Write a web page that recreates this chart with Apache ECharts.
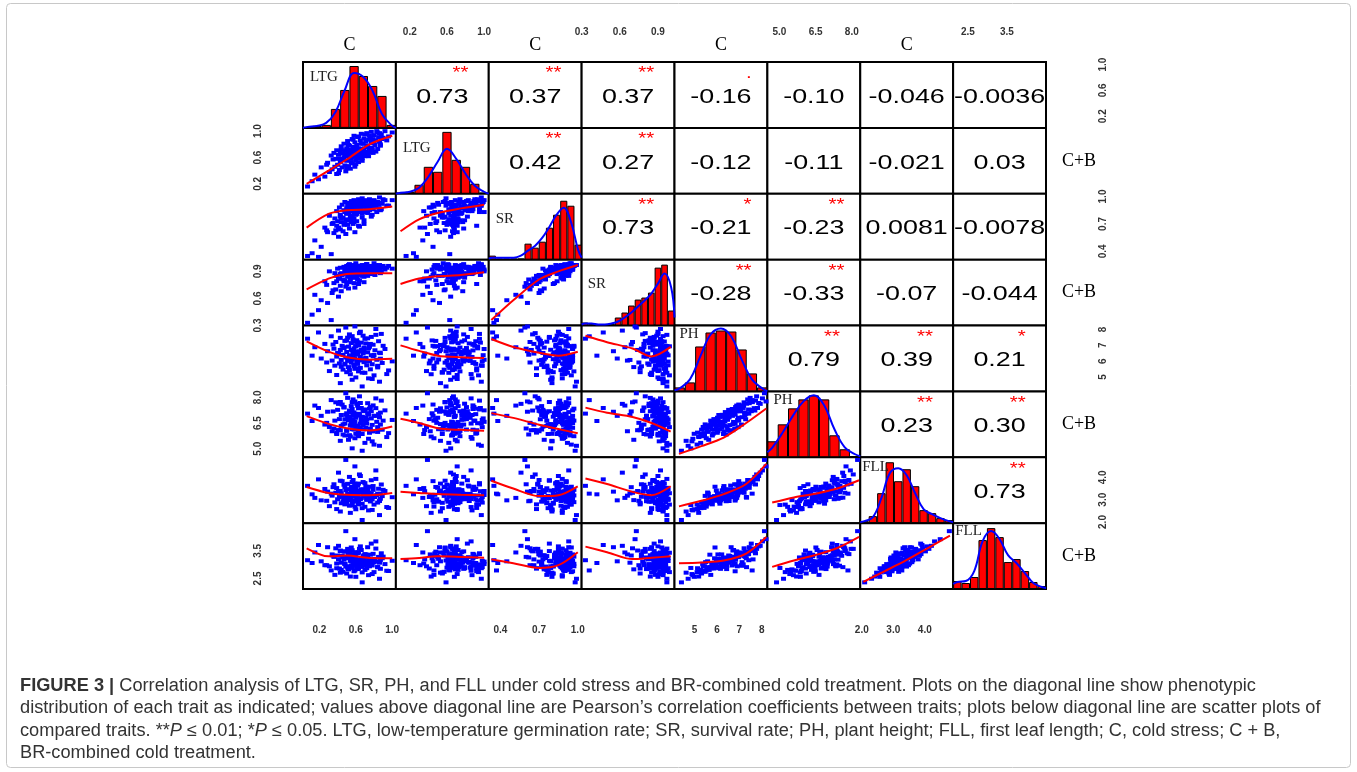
<!DOCTYPE html>
<html>
<head>
<meta charset="utf-8">
<title>Figure 3</title>
<script src="https://cdn.jsdelivr.net/npm/echarts@6/dist/echarts.min.js"></script>
<style>
  html, body { margin: 0; padding: 0; background: #fff; }
  #main { width: 1357px; height: 772px; }
</style>
</head>
<body>
<div id="main"></div>
<script type="text/javascript">
// traits in matrix order: LTG (C), LTG (C+B), SR (C), SR (C+B), PH (C), PH (C+B), FLL (C), FLL (C+B)
var traitNames = ['LTG', 'LTG', 'SR', 'SR', 'PH', 'PH', 'FLL', 'FLL'];

var ltgC = [0.07,0.15,0.19,0.22,0.26,0.29,0.31,0.33,0.34,0.36,
  0.37,0.38,0.39,0.39,0.40,0.41,0.42,0.43,0.43,0.44,
  0.45,0.46,0.46,0.47,0.48,0.48,0.49,0.49,0.50,0.50,
  0.51,0.51,0.52,0.52,0.53,0.53,0.54,0.54,0.55,0.55,
  0.56,0.56,0.56,0.57,0.57,0.58,0.58,0.58,0.59,0.59,
  0.59,0.59,0.60,0.60,0.61,0.61,0.62,0.62,0.63,0.63,
  0.64,0.65,0.65,0.66,0.66,0.67,0.67,0.68,0.68,0.69,
  0.69,0.70,0.71,0.71,0.72,0.73,0.73,0.74,0.75,0.75,
  0.76,0.77,0.77,0.78,0.79,0.79,0.80,0.81,0.82,0.83,
  0.84,0.85,0.86,0.86,0.87,0.88,0.89,0.92,0.96,1.00,
  0.12,0.28,0.35,0.41,0.44,0.47,0.50,0.52,0.53,0.55,
  0.56,0.57,0.58,0.60,0.61,0.62,0.63,0.64,0.65,0.66,
  0.67,0.68,0.70,0.71,0.72,0.74,0.76,0.78,0.80,0.82,
  0.84,0.87,0.90,0.94,0.54,0.59,0.62,0.69,0.48,0.43];
var ltgCB = [0.16,0.34,0.27,0.45,0.31,0.52,0.38,0.63,0.42,0.67,
  0.46,0.58,0.35,0.71,0.49,0.64,0.41,0.68,0.53,0.77,
  0.45,0.66,0.57,0.81,0.48,0.65,0.62,0.39,0.74,0.55,
  0.66,0.85,0.47,0.69,0.61,0.78,0.43,0.67,0.72,0.58,
  0.88,0.64,0.51,0.69,0.76,0.62,0.93,0.67,0.46,0.71,
  0.65,0.83,0.68,0.56,0.79,0.66,0.91,0.69,0.53,0.74,
  0.67,0.86,0.63,0.72,0.96,0.68,0.59,0.81,0.66,0.89,
  0.74,0.62,0.84,0.69,0.97,0.76,0.64,0.87,0.72,0.93,
  0.68,0.82,0.99,0.75,0.88,0.67,0.94,0.79,0.86,1.00,
  0.73,0.91,0.84,0.97,0.78,0.95,0.88,1.00,0.92,0.98,
  0.24,0.49,0.57,0.36,0.72,0.60,0.44,0.79,0.66,0.53,
  0.70,0.87,0.61,0.50,0.75,0.65,0.92,0.59,0.70,0.81,
  0.55,0.73,0.95,0.66,0.78,0.62,0.89,0.71,0.83,0.69,
  0.98,0.80,0.90,0.86,0.68,0.76,0.60,0.64,0.71,0.58];
var srC = [0.35,0.52,0.34,0.45,0.66,0.61,0.79,0.37,0.70,0.60,
  0.76,0.63,0.84,0.68,0.73,0.56,0.88,0.64,0.80,0.72,
  0.91,0.62,0.77,0.85,0.71,0.94,0.75,0.59,0.87,0.81,
  0.69,0.90,0.83,0.74,0.93,0.65,0.88,0.78,0.72,0.95,
  0.86,0.79,0.91,0.70,0.87,0.82,0.96,0.76,0.89,0.61,
  0.92,0.84,0.80,0.94,0.87,0.73,0.91,0.89,0.83,0.97,
  0.67,0.88,0.93,0.85,0.90,0.81,0.98,0.89,0.84,0.95,
  0.74,0.92,0.86,0.96,0.90,0.82,0.93,0.88,0.85,0.97,
  0.91,0.78,0.94,0.89,0.92,0.86,0.95,0.90,0.93,0.83,
  0.94,0.91,0.87,0.99,0.93,0.86,0.92,0.96,0.90,0.96,
  0.38,0.63,0.71,0.66,0.76,0.69,0.82,0.74,0.87,0.79,
  0.91,0.84,0.72,0.93,0.81,0.88,0.68,0.90,0.85,0.95,
  0.77,0.92,0.83,0.89,0.94,0.86,0.91,0.80,0.96,0.88,
  0.93,0.85,0.97,0.90,0.75,0.87,0.92,0.70,0.83,0.78];
var srCB = [0.33,0.64,0.47,0.58,0.79,0.55,0.90,0.36,0.66,0.77,
  0.88,0.70,0.79,0.85,0.93,0.62,0.82,0.74,0.94,0.68,
  0.86,0.81,0.87,0.95,0.80,0.90,0.91,0.73,0.96,0.76,
  0.84,0.89,0.97,0.71,0.98,0.78,0.84,0.92,0.83,0.93,
  0.88,0.94,0.85,0.86,0.97,0.77,0.92,0.89,0.95,0.72,
  0.87,0.93,0.90,0.99,0.83,0.86,0.95,0.81,0.92,0.96,
  0.80,0.93,0.88,0.96,0.86,0.91,0.97,0.94,0.89,0.92,
  0.84,0.97,0.91,0.94,0.98,0.90,0.85,0.94,0.92,0.96,
  0.88,0.87,0.95,0.93,0.89,0.94,0.99,0.86,0.92,0.90,
  0.96,0.93,0.91,0.97,0.95,0.90,0.94,0.92,0.96,0.93,
  0.42,0.75,0.69,0.82,0.88,0.79,0.92,0.86,0.91,0.95,
  0.94,0.87,0.83,0.97,0.89,0.93,0.76,0.96,0.90,0.94,
  0.85,0.95,0.92,0.87,0.98,0.93,0.89,0.91,0.95,0.97,
  0.92,0.88,0.96,0.94,0.81,0.95,0.90,0.78,0.93,0.87];
var phC = [7.42,6.88,7.81,6.17,7.09,6.63,5.38,7.57,6.04,6.79,
  5.72,7.21,6.29,5.13,6.52,7.93,5.86,6.71,4.62,6.08,
  6.97,6.41,5.47,6.83,7.28,5.79,6.23,8.12,6.58,5.31,
  7.48,6.02,6.92,5.63,6.37,7.69,5.18,6.33,7.14,5.91,
  6.68,4.83,6.11,7.37,6.47,5.68,6.81,7.23,5.52,8.19,
  6.19,6.61,4.98,6.94,7.32,5.97,5.83,6.43,7.02,5.36,
  7.77,6.27,5.58,6.74,7.17,6.13,4.41,6.49,7.61,5.94,
  6.86,5.27,7.12,6.21,5.74,6.56,7.44,4.92,6.01,6.91,
  5.49,7.53,6.38,5.81,7.04,6.31,5.11,6.69,8.03,6.09,
  5.61,7.26,6.54,4.71,6.16,7.72,5.89,6.77,5.42,5.99,
  6.35,5.92,7.05,6.48,5.65,6.88,7.31,6.12,5.44,6.72,
  7.58,6.26,5.77,6.95,6.44,7.19,5.55,6.63,7.86,6.05,
  5.28,6.57,7.41,6.18,5.98,6.81,7.09,4.88,6.39,7.66,
  5.71,6.51,6.97,5.19,6.29,7.24,6.02,6.66,5.84,7.47];
var phCB = [7.05,7.52,7.38,6.92,6.41,7.16,6.27,7.84,6.02,6.18,
  6.64,7.71,5.86,5.94,7.27,7.62,6.73,6.08,5.46,6.97,
  7.58,5.83,6.42,7.43,6.72,5.77,6.98,8.24,6.04,6.11,
  7.97,6.81,6.67,5.52,7.14,7.23,5.71,6.36,7.49,6.51,
  7.32,5.02,6.14,7.88,6.69,6.38,6.49,7.12,5.61,7.76,
  6.58,7.04,5.87,6.26,7.63,6.29,5.88,6.93,7.36,5.73,
  8.06,6.47,6.24,6.56,7.38,6.87,4.88,6.12,7.27,6.63,
  7.19,5.34,6.84,6.22,6.47,7.08,7.66,5.58,5.93,7.34,
  6.17,7.19,6.77,6.39,7.53,6.01,5.24,6.92,7.94,6.57,
  5.98,7.02,6.83,5.17,6.41,7.81,6.11,7.24,5.91,6.68,
  6.62,6.51,7.18,6.09,6.33,7.41,7.07,6.88,5.79,6.44,
  7.72,6.97,6.12,6.81,6.29,7.51,6.08,7.04,7.67,6.73,
  5.86,6.38,7.29,6.55,6.71,6.99,7.44,5.43,6.92,7.37,
  6.26,7.11,6.64,5.68,6.86,6.92,6.36,7.21,6.47,7.73];
var fllC = [3.62,3.08,3.91,2.97,3.48,3.36,2.71,3.27,3.18,3.69,
  2.88,3.31,3.52,2.58,3.02,4.21,3.12,3.39,2.47,3.28,
  3.83,2.93,3.17,3.04,3.57,2.79,3.42,4.78,3.11,2.86,
  3.71,3.26,3.22,2.98,3.47,4.02,2.41,3.07,3.33,3.58,
  3.19,2.76,2.91,3.88,3.37,3.13,2.96,3.51,2.69,4.49,
  3.21,3.63,2.57,3.29,3.09,3.41,3.01,3.16,3.72,2.89,
  4.13,3.03,3.32,3.46,3.38,2.82,2.09,3.23,3.79,3.14,
  3.34,2.68,3.59,3.24,2.99,3.43,3.53,2.52,3.06,3.19,
  2.92,3.87,3.28,3.01,3.44,3.61,2.78,3.12,4.31,3.21,
  3.27,3.49,2.94,2.31,3.04,3.68,3.16,3.39,2.63,3.11,
  3.24,2.95,3.56,3.38,2.84,3.67,3.12,3.02,2.73,3.41,
  3.79,3.18,2.91,3.53,3.29,3.63,2.79,3.35,4.06,3.07,
  2.62,3.46,3.74,3.21,3.04,3.31,3.58,2.54,3.15,3.93,
  2.87,3.26,3.44,2.67,3.09,3.72,3.01,3.36,2.99,3.85];
var fllCB = [3.16,3.44,3.71,3.12,2.98,3.63,2.94,2.79,3.37,3.28,
  2.63,3.59,3.04,2.87,3.33,3.68,2.86,3.51,2.71,3.07,
  3.32,3.26,2.74,3.18,3.47,3.02,2.93,4.21,3.29,2.68,
  3.57,2.89,3.41,2.83,3.24,3.48,2.57,3.14,2.96,3.62,
  2.97,2.88,3.21,3.38,3.13,3.36,2.76,3.31,2.79,3.92,
  3.08,3.27,2.56,3.43,2.91,3.19,3.06,2.84,3.44,3.03,
  3.57,2.92,3.12,3.53,3.01,2.93,2.36,3.22,3.19,2.99,
  3.34,2.81,3.09,3.37,2.87,3.26,3.63,2.62,3.17,2.94,
  3.09,3.76,3.04,2.97,3.39,3.16,2.73,3.21,3.84,3.11,
  2.91,3.28,3.07,2.49,2.85,3.41,3.23,3.02,2.77,3.14,
  3.06,2.98,3.33,3.19,2.81,3.48,3.23,2.87,2.94,3.12,
  3.52,3.09,3.02,3.27,2.96,3.41,2.86,3.15,3.66,3.21,
  2.72,3.31,3.38,2.99,3.13,3.04,3.36,2.66,3.08,3.58,
  2.91,3.17,3.29,2.78,3.24,3.45,2.89,3.11,3.03,3.49];

// axis ranges and tick labels of each trait
var axisMin = [0.02, 0.05, 0.31, 0.30, 4.10, 4.50, 1.95, 2.12];
var axisMax = [1.04, 1.05, 1.03, 1.03, 8.25, 8.35, 4.90, 4.50];
var tickLabels = [[0.2, 0.6, 1.0], [0.2, 0.6, 1.0], [0.4, 0.7, 1.0], [0.3, 0.6, 0.9],
  [5, 6, 7, 8], [5.0, 6.5, 8.0], [2.0, 3.0, 4.0], [2.5, 3.5]];
var tickDecimals = [1, 1, 1, 1, 0, 1, 1, 1];

// histogram bar heights (bins spread across the panel) and density curve (edge, bin centres, edge)
var histLtgC = [1, 2, 3, 19, 38, 62, 52, 42, 32, 3];
var densLtgC = [0, 1, 2, 5, 16, 38, 55, 51, 37, 14, 3, 0];
var histLtgCB = [1, 2, 9, 27, 22, 62, 34, 27, 10, 1];
var densLtgCB = [0, 1, 2, 6, 17, 32, 45, 35, 20, 8, 2, 0];
var histSrC = [4, 1, 1, 1, 1, 16, 12, 18, 32, 45, 59, 54, 15];
var densSrC = [1, 2, 2, 2, 2, 4, 9, 14, 22, 33, 45, 52, 38, 10, 2];
var histSrCB = [3, 1, 1, 1, 1, 8, 13, 20, 26, 28, 33, 58, 61, 15];
var densSrCB = [1, 2, 2, 1, 1, 2, 4, 8, 13, 19, 25, 32, 42, 52, 38, 8];
var histPhC = [4, 9, 45, 59, 61, 60, 42, 18, 4];
var densPhC = [1, 3, 12, 35, 57, 63, 55, 32, 12, 3, 0];
var histPhCB = [16, 33, 49, 58, 62, 58, 22, 8, 1];
var densPhCB = [5, 10, 25, 42, 56, 62, 52, 28, 10, 3, 1];
var histFllC = [2, 7, 30, 61, 42, 54, 37, 13, 10, 5, 3];
var densFllC = [1, 2, 6, 25, 50, 55, 48, 30, 14, 9, 5, 2, 1];
var histFllCB = [8, 6, 12, 49, 61, 52, 27, 30, 18, 7, 3];
var densFllCB = [5, 7, 8, 18, 48, 58, 50, 34, 26, 16, 6, 2, 1];

// smoother (red line) read at these x values of the column trait
var loessKnots = [[0.06, 0.3, 0.5, 0.75, 1.0], [0.1, 0.3, 0.5, 0.75, 1.0],
  [0.33, 0.5, 0.7, 0.85, 1.0], [0.33, 0.5, 0.7, 0.85, 1.0],
  [4.3, 5.3, 6.3, 7.3, 8.2], [4.7, 5.6, 6.5, 7.4, 8.3], [2.05, 2.7, 3.4, 4.1, 4.8]];
var loessRow2 = [[0.20, 0.40, 0.57, 0.80, 0.93]];
var loessRow3 = [[0.66, 0.81, 0.85, 0.86, 0.89], [0.62, 0.75, 0.82, 0.87, 0.91]];
var loessRow4 = [[0.70, 0.82, 0.87, 0.88, 0.88], [0.76, 0.82, 0.845, 0.86, 0.89],
  [0.36, 0.58, 0.81, 0.90, 0.97]];
var loessRow5 = [[7.25, 6.6, 6.25, 6.1, 6.15], [7.0, 6.65, 6.35, 6.25, 6.2],
  [7.4, 6.9, 6.53, 6.35, 6.6], [7.6, 7.2, 6.8, 6.3, 6.9]];
var loessRow6 = [[6.9, 6.45, 6.2, 6.07, 6.3], [6.75, 6.5, 6.2, 6.1, 6.05],
  [7.08, 6.8, 6.4, 6.15, 5.9], [7.4, 7.1, 6.85, 6.5, 6.0], [4.7, 5.15, 5.65, 6.5, 7.35]];
var loessRow7 = [[3.57, 3.3, 3.22, 3.2, 3.3], [3.35, 3.3, 3.25, 3.22, 3.2],
  [3.85, 3.5, 3.16, 3.2, 3.6], [3.95, 3.7, 3.35, 3.2, 3.6],
  [2.7, 2.95, 3.25, 3.7, 4.6], [2.87, 3.1, 3.27, 3.5, 3.87]];
var loessRow8 = [[3.59, 3.3, 3.33, 3.24, 3.23], [3.2, 3.24, 3.3, 3.28, 3.25],
  [3.19, 3.05, 2.88, 2.98, 3.45], [3.65, 3.45, 3.2, 3.25, 3.3],
  [3.05, 3.08, 3.15, 3.4, 4.0], [2.92, 3.15, 3.35, 3.6, 4.0], [2.38, 2.75, 3.15, 3.6, 4.05]];

// upper triangle: correlation coefficients and significance marks, row by row
var corrText = [
  ['0.73', '0.37', '0.37', '-0.16', '-0.10', '-0.046', '-0.0036'],
  ['0.42', '0.27', '-0.12', '-0.11', '-0.021', '0.03'],
  ['0.73', '-0.21', '-0.23', '0.0081', '-0.0078'],
  ['-0.28', '-0.33', '-0.07', '-0.044'],
  ['0.79', '0.39', '0.21'],
  ['0.23', '0.30'],
  ['0.73']
];
var corrStars = [
  ['**', '**', '**', '.', '', '', ''],
  ['**', '**', '', '', '', ''],
  ['**', '*', '**', '', ''],
  ['**', '**', '', ''],
  ['**', '**', '*'],
  ['**', '**'],
  ['**']
];

var captionLines = [
  'distribution of each trait as indicated; values above diagonal line are Pearson\u2019s correlation coefficients between traits; plots below diagonal line are scatter plots of',
  'BR-combined cold treatment.'
];

var traits = [ltgC, ltgCB, srC, srCB, phC, phCB, fllC, fllCB];
var hists = [histLtgC, histLtgCB, histSrC, histSrCB, histPhC, histPhCB, histFllC, histFllCB];
var dens = [densLtgC, densLtgCB, densSrC, densSrCB, densPhC, densPhCB, densFllC, densFllCB];
var loessRows = [null, loessRow2, loessRow3, loessRow4, loessRow5, loessRow6, loessRow7, loessRow8];

// layout of the matrix
var L = 303, T = 62, CW = 92.875, CH = 65.875;
var labelDx = [7, 7, 7, 6, 5, 6, 2, 2];
var labelDy = [15, 20, 25, 24, 9, 9, 10, 8];

var myChart = echarts.init(document.getElementById('main'));

var grids = [], xAxes = [], yAxes = [], series = [], graphics = [];

function valueAxis(k, gi, pos, showLabels, margin, rotate) {
  var a = {
    type: 'value', gridIndex: gi, min: axisMin[k], max: axisMax[k], position: pos,
    axisLine: { show: false }, axisTick: { show: false }, splitLine: { show: false },
    axisLabel: { show: false }
  };
  if (showLabels) {
    a.axisLabel = {
      show: true, customValues: tickLabels[k], margin: margin, rotate: rotate,
      fontSize: 10, fontWeight: 'bold', color: '#333', fontFamily: 'Liberation Sans',
      formatter: function (v) { return Number(v).toFixed(tickDecimals[k]); }
    };
  }
  return a;
}

for (var r = 0; r < 8; r++) {
  for (var c = 0; c < 8; c++) {
    var gi = r * 8 + c;
    grids.push({
      left: L + c * CW, top: T + r * CH, width: CW, height: CH,
      show: true, borderColor: '#000', borderWidth: 2, backgroundColor: '#fff'
    });
    if (r === c) {
      var nb = hists[r].length;
      xAxes.push({ type: 'value', gridIndex: gi, min: 0, max: nb, show: false });
      yAxes.push({ type: 'value', gridIndex: gi, min: 0, max: 66, show: false });
      series.push({
        type: 'bar', xAxisIndex: gi, yAxisIndex: gi, barWidth: CW / nb,
        data: hists[r].map(function (v, i) { return [i + 0.5, v]; }),
        itemStyle: { color: '#ff0000', borderColor: '#000', borderWidth: 1 }
      });
      var d = dens[r];
      series.push({
        type: 'line', xAxisIndex: gi, yAxisIndex: gi, symbol: 'none', smooth: 0.4,
        data: d.map(function (v, i) {
          var x = i === 0 ? 0 : (i === d.length - 1 ? nb : i - 0.5);
          return [x, v];
        }),
        lineStyle: { color: '#0000ff', width: 2 }, z: 3
      });
      graphics.push({
        type: 'text', x: L + c * CW + labelDx[r], y: T + r * CH + labelDy[r], z: 60,
        style: { text: traitNames[r], fontFamily: 'Liberation Serif', fontSize: 15,
          fill: '#222', align: 'left', verticalAlign: 'middle' }
      });
      continue;
    }
    xAxes.push(valueAxis(c, gi, r === 0 ? 'top' : 'bottom',
      (r === 0 && c % 2 === 1) || (r === 7 && c % 2 === 0), r === 0 ? 25 : 36, 0));
    yAxes.push(valueAxis(r, gi, c === 7 ? 'right' : 'left',
      (c === 0 && r % 2 === 1) || (c === 7 && r % 2 === 0), c === 0 ? 40 : 52, 90));
    if (r > c) {
      var xs = traits[c], ys = traits[r];
      series.push({
        type: 'scatter', xAxisIndex: gi, yAxisIndex: gi, symbol: 'rect', symbolSize: [5, 4],
        data: xs.map(function (v, i) { return [v, ys[i]]; }),
        itemStyle: { color: '#0000ff', opacity: 1 }
      });
      var ly = loessRows[r][c];
      series.push({
        type: 'line', xAxisIndex: gi, yAxisIndex: gi, symbol: 'none', smooth: 0.3,
        data: loessKnots[c].map(function (x, j) { return [x, ly[j]]; }),
        lineStyle: { color: '#ff0000', width: 2 }, z: 4
      });
    }
  }
}

// correlation values above the diagonal
var richCorr = {
  s: { fontSize: 16, fill: '#ff0000', align: 'right', lineHeight: 20, fontFamily: 'Liberation Sans' },
  n: { fontSize: 21, fill: '#000', lineHeight: 26, fontFamily: 'Liberation Sans' }
};
corrText.forEach(function (row, r) {
  row.forEach(function (txt, k) {
    var c = r + 1 + k;
    var st = corrStars[r][k] || ' ';
    graphics.push({
      type: 'text', x: L + (c + 0.5) * CW, y: T + (r + 0.5) * CH - 8, scaleX: 1.28, z: 60,
      style: { text: '{s|' + st + '}\n{n|' + txt + '}', rich: richCorr, align: 'center', verticalAlign: 'middle' }
    });
  });
});

// group labels
[0, 2, 4, 6].forEach(function (c) {
  graphics.push({ type: 'text', x: L + (c + 0.5) * CW, y: 45, z: 60,
    style: { text: 'C', fontFamily: 'Liberation Serif', fontSize: 18, fill: '#000', align: 'center', verticalAlign: 'middle' } });
});
[1, 3, 5, 7].forEach(function (r) {
  graphics.push({ type: 'text', x: 1079, y: T + (r + 0.5) * CH, z: 60,
    style: { text: 'C+B', fontFamily: 'Liberation Serif', fontSize: 18, fill: '#000', align: 'center', verticalAlign: 'middle' } });
});

// frame and caption
graphics.push({ type: 'rect', z: 1, shape: { x: 6.5, y: 3.5, width: 1344, height: 764, r: 4 },
  style: { fill: 'none', stroke: '#c8c8c8', lineWidth: 1 } });
var capStyle = { fontFamily: 'Liberation Sans', fontSize: 18, fill: '#333' };
var capScale = 1.012;
graphics.push({ type: 'text', x: 20, y: 686, scaleX: capScale, z: 60, style: {
  text: '{b|FIGURE 3 |} Correlation analysis of LTG, SR, PH, and FLL under cold stress and BR-combined cold treatment. Plots on the diagonal line show phenotypic',
  rich: { b: { fontWeight: 'bold', fontSize: 18, fontFamily: 'Liberation Sans', fill: '#333' } },
  fontFamily: 'Liberation Sans', fontSize: 18, fill: '#333', verticalAlign: 'middle' } });
graphics.push({ type: 'text', x: 20, y: 708.5, scaleX: capScale, z: 60,
  style: Object.assign({ text: captionLines[0], verticalAlign: 'middle' }, capStyle) });
graphics.push({ type: 'text', x: 20, y: 731, scaleX: capScale, z: 60, style: {
  text: 'compared traits. **{i|P} \u2264 0.01; *{i|P} \u2264 0.05. LTG, low-temperature germination rate; SR, survival rate; PH, plant height; FLL, first leaf length; C, cold stress; C + B,',
  rich: { i: { fontStyle: 'italic', fontSize: 18, fontFamily: 'Liberation Sans', fill: '#333' } },
  fontFamily: 'Liberation Sans', fontSize: 18, fill: '#333', verticalAlign: 'middle' } });
graphics.push({ type: 'text', x: 20, y: 753, scaleX: capScale, z: 60,
  style: Object.assign({ text: captionLines[1], verticalAlign: 'middle' }, capStyle) });

var option = {
  animation: false,
  backgroundColor: '#fff',
  grid: grids,
  xAxis: xAxes,
  yAxis: yAxes,
  series: series,
  graphic: graphics
};

myChart.setOption(option);
</script>
</body>
</html>
